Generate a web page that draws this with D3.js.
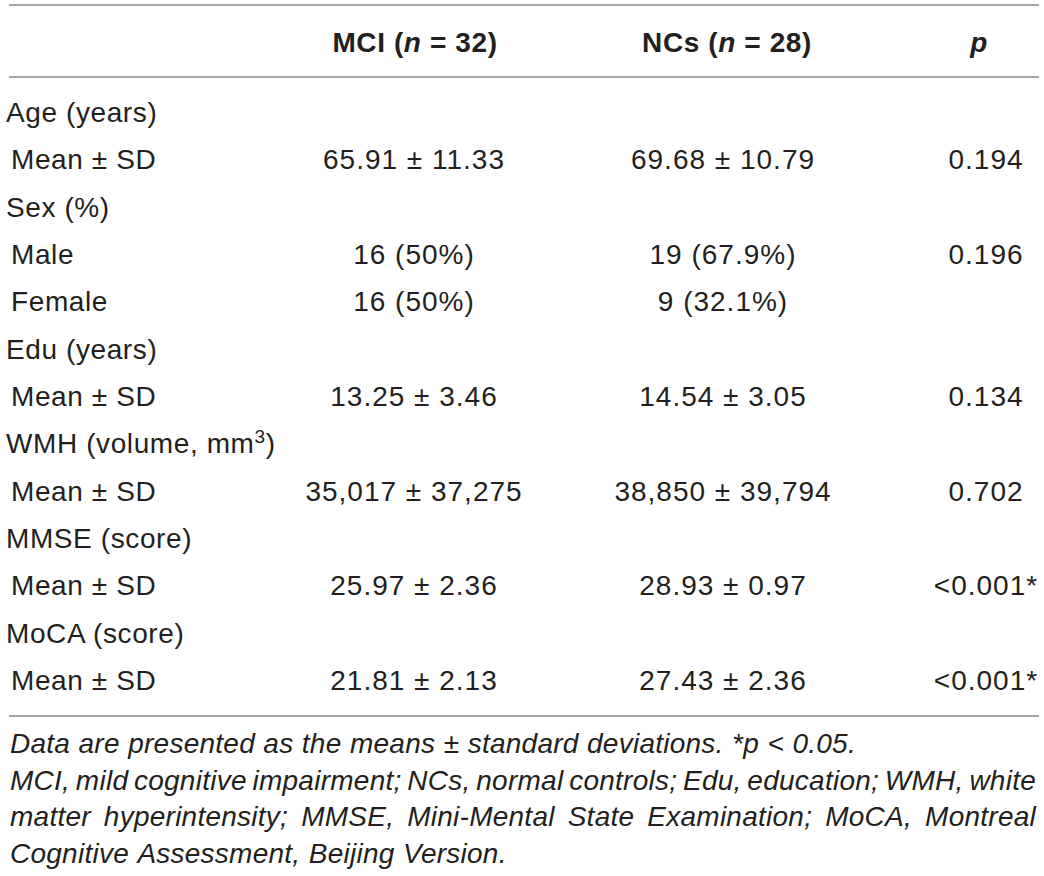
<!DOCTYPE html>
<html>
<head>
<meta charset="utf-8">
<script src="https://cdnjs.cloudflare.com/ajax/libs/d3/7.8.5/d3.min.js"></script>
<style>
  body { margin: 0; background: #fff; }
  text { font-family: 'Liberation Sans', Arial, sans-serif; fill: #231f20; }
</style>
</head>
<body>
<div class="canvas"></div>
<script>
// table content
const headers = [
  [{ t: 'MCI (' }, { t: 'n', i: true }, { t: ' = 32)' }],
  [{ t: 'NCs (' }, { t: 'n', i: true }, { t: ' = 28)' }],
  [{ t: 'p', i: true }]
];
const rowLabels = ['Age (years)', 'Mean ± SD', 'Sex (%)', 'Male', 'Female', 'Edu (years)', 'Mean ± SD',
  'WMH (volume, mm|3|)', 'Mean ± SD', 'MMSE (score)', 'Mean ± SD', 'MoCA (score)', 'Mean ± SD'];
const isGroup = [true, false, true, false, false, true, false, true, false, true, false, true, false];
const mciValues = ['', '65.91 ± 11.33', '', '16 (50%)', '16 (50%)', '', '13.25 ± 3.46', '',
  '35,017 ± 37,275', '', '25.97 ± 2.36', '', '21.81 ± 2.13'];
const ncValues = ['', '69.68 ± 10.79', '', '19 (67.9%)', '9 (32.1%)', '', '14.54 ± 3.05', '',
  '38,850 ± 39,794', '', '28.93 ± 0.97', '', '27.43 ± 2.36'];
const pValues = ['', '0.194', '', '0.196', '', '', '0.134', '', '0.702', '', '<0.001*', '', '<0.001*'];
const notes = [
  { t: 'Data are presented as the means ± standard deviations. *p < 0.05.', justify: false },
  { t: 'MCI, mild cognitive impairment; NCs, normal controls; Edu, education; WMH, white', justify: true },
  { t: 'matter hyperintensity; MMSE, Mini-Mental State Examination; MoCA, Montreal', justify: true },
  { t: 'Cognitive Assessment, Beijing Version.', justify: false }
];

const width = 1044;
const height = 876;
const fontSize = 28;

const svg = d3.select('.canvas')
  .append('svg')
  .attr('width', width)
  .attr('height', height);

// scales
const y = d3.scalePoint()
  .domain(d3.range(rowLabels.length))
  .range([122, 690]);

const colX = d3.scaleOrdinal()
  .domain(['mci', 'nc', 'p'])
  .range([414, 723, 986]);

const noteY = d3.scalePoint()
  .domain(d3.range(notes.length))
  .range([753, 863]);

// rules
const rules = [5, 77, 716];
svg.selectAll('line.rule')
  .data(rules)
  .enter()
  .append('line')
  .attr('class', 'rule')
  .attr('x1', 9)
  .attr('x2', 1039)
  .attr('y1', d => d)
  .attr('y2', d => d)
  .attr('stroke', '#a6a6a6')
  .attr('stroke-width', 2);

// header
const headX = [415, 727, 979];
svg.selectAll('text.head')
  .data(headers)
  .enter()
  .append('text')
  .attr('class', 'head')
  .attr('x', (d, i) => headX[i])
  .attr('y', 52)
  .attr('text-anchor', 'middle')
  .attr('font-weight', 'bold')
  .attr('font-size', fontSize)
  .attr('letter-spacing', 0.6)
  .each(function (d) {
    d3.select(this).selectAll('tspan')
      .data(d)
      .enter()
      .append('tspan')
      .attr('font-style', p => p.i ? 'italic' : null)
      .text(p => p.t);
  });

// row labels
svg.selectAll('text.label')
  .data(rowLabels)
  .enter()
  .append('text')
  .attr('class', 'label')
  .attr('x', (d, i) => isGroup[i] ? 6 : 11)
  .attr('y', (d, i) => y(i))
  .attr('font-size', fontSize)
  .attr('letter-spacing', 0.6)
  .each(function (d) {
    const parts = d.split('|');
    const t = d3.select(this);
    t.append('tspan').text(parts[0]);
    if (parts.length > 1) {
      t.append('tspan').attr('dy', -10).attr('font-size', 19).text(parts[1]);
      t.append('tspan').attr('dy', 10).text(parts[2]);
    }
  });

// values
const cols = [
  { key: 'mci', values: mciValues },
  { key: 'nc', values: ncValues },
  { key: 'p', values: pValues }
];
cols.forEach(col => {
  svg.selectAll('text.v-' + col.key)
    .data(col.values)
    .enter()
    .append('text')
    .attr('class', 'v-' + col.key)
    .attr('x', colX(col.key))
    .attr('y', (d, i) => y(i))
    .attr('text-anchor', 'middle')
    .attr('font-size', fontSize)
    .attr('letter-spacing', 1.0)
    .text(d => d);
});

// footnotes, lines 2 and 3 justified word by word
const left = 10;
const right = 1036;
notes.forEach((n, i) => {
  const t = svg.append('text')
    .attr('y', noteY(i))
    .attr('font-size', 28)
    .attr('letter-spacing', 0.25)
    .attr('font-style', 'italic');
  const words = n.t.split(' ');
  const spans = words.map(w => t.append('tspan').text(w));
  const widths = spans.map(s => s.node().getComputedTextLength());
  const total = d3.sum(widths);
  const space = n.justify
    ? (right - left - total) / (words.length - 1)
    : 28 * 0.3;
  let cx = left;
  spans.forEach((s, k) => {
    s.attr('x', cx);
    cx += widths[k] + space;
  });
});
</script>
</body>
</html>
